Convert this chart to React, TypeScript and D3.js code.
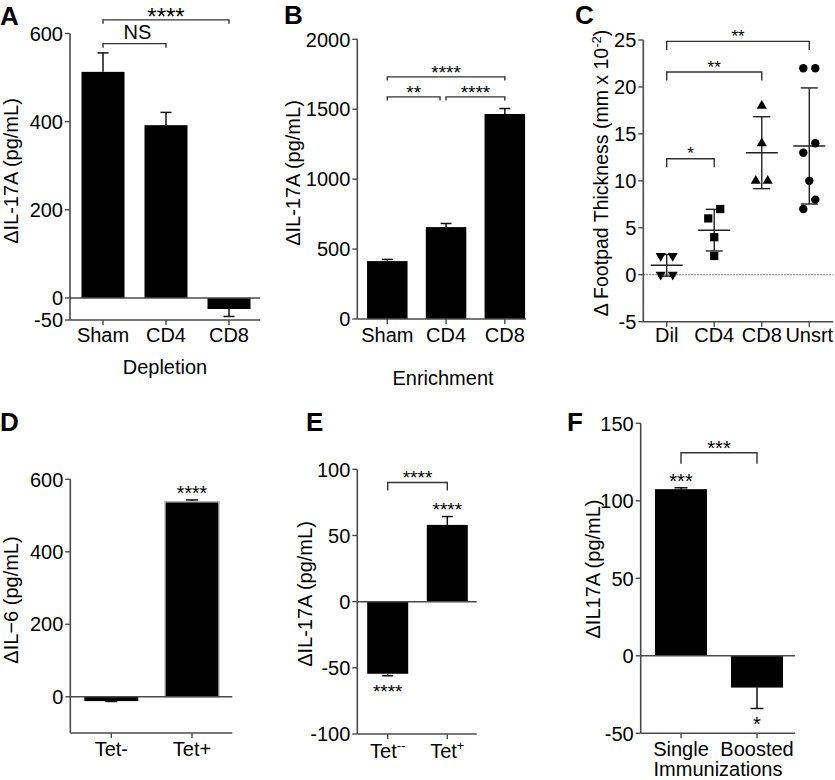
import React from "react";
import * as d3 from "d3";

const FONT = "'Liberation Sans', Arial, Helvetica, sans-serif";
const AXIS = "#4a4a4a";

// ---------- Panel A: Depletion ----------
const aCategories = ["Sham", "CD4", "CD8"];
const aValues = [513, 392, -25];
const aErrors = [43, 29, 17];
const aTicks = [-50, 0, 200, 400, 600];
const aBrackets = [
  { from: "Sham", to: "CD8", at: 631, label: "****" },
  { from: "Sham", to: "CD4", at: 577, label: "NS" },
];

// ---------- Panel B: Enrichment ----------
const bCategories = ["Sham", "CD4", "CD8"];
const bValues = [414, 657, 1466];
const bErrors = [12, 26, 39];
const bTicks = [0, 500, 1000, 1500, 2000];
const bBrackets = [
  { from: "Sham", to: "CD8", at: 1731, label: "****" },
  { from: "Sham", to: "CD4", at: 1588, label: "**", insetR: 6 },
  { from: "CD4", to: "CD8", at: 1588, label: "****" },
];

// ---------- Panel C: Footpad thickness ----------
const cCategories = ["Dil", "CD4", "CD8", "Unsrt"];
const cDil = [2, 2, 0, 0];
const cCD4 = [6, 7, 4, 2];
const cCD8 = [18, 14, 10, 10];
const cUnsrt = [22, 22, 14, 13, 10, 8, 7];
const cTicks = [-5, 0, 5, 10, 15, 20, 25];
const cBrackets = [
  { from: "Dil", to: "Unsrt", at: 24.85, label: "**" },
  { from: "Dil", to: "CD8", at: 21.6, label: "**" },
  { from: "Dil", to: "CD4", at: 12.35, label: "*" },
];

// ---------- Panel D: IL-6 ----------
const dCategories = ["Tet-", "Tet+"];
const dValues = [-12, 538];
const dErrors = [1, 5];
const dTicks = [0, 200, 400, 600];
const dStars = ["", "****"];

// ---------- Panel E: IL-17A ----------
const eCategories = ["Tet--", "Tet+"];
const eLabelBase = ["Tet", "Tet"];
const eLabelSup = ["--", "+"];
const eValues = [-54.5, 58];
const eErrors = [1.5, 6.3];
const eTicks = [-100, -50, 0, 50, 100];
const eStars = ["****", "****"];
const eBrackets = [{ from: "Tet--", to: "Tet+", at: 90, label: "****" }];

// ---------- Panel F: Immunizations ----------
const fCategories = ["Single", "Boosted"];
const fValues = [107.5, -20.5];
const fErrors = [0.9, 13.5];
const fTicks = [-50, 0, 50, 100, 150];
const fStars = ["***", "*"];
const fBrackets = [{ from: "Single", to: "Boosted", at: 131, label: "***" }];

type Bracket = { from: string; to: string; at: number; label: string; insetR?: number };

const TICK_FS = 20;

function StarText({ x, cy, label, fs }: { x: number; cy: number; label: string; fs: number }) {
  return (
    <text x={x} y={cy + 0.57 * fs} fontSize={fs} textAnchor="middle" fill="#000">
      {label}
    </text>
  );
}

function YAxis({ y, ticks, axisX, top, bottom }: any) {
  return (
    <g>
      <line x1={axisX} x2={axisX} y1={top} y2={bottom} stroke={AXIS} strokeWidth={1.6} />
      {ticks.map((t: number) => (
        <g key={t}>
          <line x1={axisX - 5} x2={axisX} y1={y(t)} y2={y(t)} stroke={AXIS} strokeWidth={1.4} />
          <text x={axisX - 7} y={y(t)} dy="0.36em" textAnchor="end" fontSize={TICK_FS} fill="#000">
            {t}
          </text>
        </g>
      ))}
    </g>
  );
}

function Brackets({ brackets, x, y, tick, fs }: any) {
  return (
    <g>
      {brackets.map((b: Bracket, i: number) => {
        const x1 = x(b.from) as number;
        const x2 = (x(b.to) as number) - (b.insetR || 0);
        const yy = y(b.at);
        const isText = b.label === "NS";
        return (
          <g key={i}>
            <path
              d={`M${x1},${yy + tick}V${yy}H${x2}V${yy + tick}`}
              fill="none"
              stroke="#333"
              strokeWidth={1.4}
            />
            {isText ? (
              <text x={(x1 + x2) / 2 + 3} y={yy - 5} textAnchor="middle" fontSize={20} fill="#000">
                {b.label}
              </text>
            ) : (
              <StarText x={(x1 + x2) / 2} cy={yy - 9} label={b.label} fs={fs} />
            )}
          </g>
        );
      })}
    </g>
  );
}

function BarPanel(props: any) {
  const {
    cats, values, errors, ticks, yDomain, yPix, axisX, axisRight, centers, barW, capW,
    brackets, bracketTick, starFs, barStars, barStroke, catLabels, catY,
  } = props;
  const y = d3.scaleLinear().domain(yDomain).range(yPix);
  const x = d3.scalePoint<string>().domain(cats).range(centers);
  const y0 = y(0);
  const bottom = yPix[0];
  return (
    <g>
      {cats.map((c: string, i: number) => {
        const v = values[i];
        const cx = x(c) as number;
        const yv = y(v);
        const tip = v >= 0 ? v + errors[i] : v - errors[i];
        const yt = y(tip);
        return (
          <g key={c}>
            <line x1={cx} x2={cx} y1={yv} y2={yt} stroke="#111" strokeWidth={1.5} />
            <line x1={cx - capW / 2} x2={cx + capW / 2} y1={yt} y2={yt} stroke="#111" strokeWidth={1.5} />
            <rect
              x={cx - barW / 2}
              y={Math.min(yv, y0)}
              width={barW}
              height={Math.abs(y0 - yv)}
              fill="#000"
              stroke={barStroke ? barStroke[i] : "none"}
              strokeWidth={1.5}
            />
            {barStars && barStars[i] ? (
              <StarText x={cx} cy={v >= 0 ? yt - 11 : yt + 11} label={barStars[i]} fs={starFs} />
            ) : null}
          </g>
        );
      })}
      {yDomain[0] < 0 ? (
        <line x1={axisX} x2={axisRight} y1={y0} y2={y0} stroke={AXIS} strokeWidth={1.5} />
      ) : null}
      <line x1={axisX} x2={axisRight} y1={bottom} y2={bottom} stroke={AXIS} strokeWidth={1.6} />
      {cats.map((c: string, i: number) => {
        const cx = x(c) as number;
        return (
          <g key={c + "t"}>
            <line x1={cx} x2={cx} y1={bottom} y2={bottom + 5} stroke={AXIS} strokeWidth={1.4} />
            <text x={cx} y={catY} textAnchor="middle" fontSize={TICK_FS} fill="#000">
              {catLabels[i]}
            </text>
          </g>
        );
      })}
      <YAxis y={y} ticks={ticks} axisX={axisX} top={yPix[1]} bottom={bottom} />
      {brackets ? <Brackets brackets={brackets} x={x} y={y} tick={bracketTick} fs={starFs} /> : null}
    </g>
  );
}

function swarm(values: number[], threshold: number, spacing: number) {
  const idx = values.map((v, i) => i).sort((a, b) => values[a] - values[b]);
  const offsets = new Array(values.length).fill(0);
  let cluster: number[] = [];
  const flush = () => {
    cluster.forEach((k, j) => {
      offsets[k] = (j - (cluster.length - 1) / 2) * spacing;
    });
    cluster = [];
  };
  idx.forEach((k) => {
    if (cluster.length && values[k] - values[cluster[cluster.length - 1]] > threshold) flush();
    cluster.push(k);
  });
  flush();
  return offsets;
}

function ScatterPanel() {
  const y = d3.scaleLinear().domain([-5, 25]).range([321.7, 40]);
  const x = d3.scalePoint<string>().domain(cCategories).range([666.7, 809.3]);
  const groups = [cDil, cCD4, cCD8, cUnsrt];
  const symbols = [
    { t: d3.symbolTriangle, s: 44, r: 180 },
    { t: d3.symbolSquare, s: 68, r: 0 },
    { t: d3.symbolTriangle, s: 44, r: 0 },
    { t: d3.symbolCircle, s: 56, r: 0 },
  ];
  const axisX = 643.3;
  const bottom = 321.7;
  return (
    <g>
      <line
        x1={axisX} x2={833} y1={y(0)} y2={y(0)}
        stroke="#555" strokeWidth={1} strokeDasharray="1.5,1.5"
      />
      {groups.map((vals, gi) => {
        const cx = x(cCategories[gi]) as number;
        const offs = swarm(vals, 1.5, 12);
        const m = d3.mean(vals) as number;
        const sd = d3.deviation(vals) as number;
        const sym = d3.symbol().type(symbols[gi].t).size(symbols[gi].s)() as string;
        return (
          <g key={gi}>
            <line x1={cx} x2={cx} y1={y(m + sd)} y2={y(m - sd)} stroke="#222" strokeWidth={1.4} />
            <line x1={cx - 8.5} x2={cx + 8.5} y1={y(m + sd)} y2={y(m + sd)} stroke="#222" strokeWidth={1.4} />
            <line x1={cx - 8.5} x2={cx + 8.5} y1={y(m - sd)} y2={y(m - sd)} stroke="#222" strokeWidth={1.4} />
            <line x1={cx - 16} x2={cx + 16} y1={y(m)} y2={y(m)} stroke="#222" strokeWidth={1.5} />
            {vals.map((v, i) => (
              <path
                key={i}
                d={sym}
                transform={`translate(${cx + offs[i]},${y(v)}) rotate(${symbols[gi].r})`}
                fill="#000"
              />
            ))}
          </g>
        );
      })}
      <line x1={axisX} x2={833} y1={bottom} y2={bottom} stroke={AXIS} strokeWidth={1.6} />
      {cCategories.map((c) => (
        <g key={c}>
          <line x1={x(c)} x2={x(c)} y1={bottom} y2={bottom + 5} stroke={AXIS} strokeWidth={1.4} />
          <text x={x(c)} y={342} textAnchor="middle" fontSize={TICK_FS} fill="#000">
            {c}
          </text>
        </g>
      ))}
      <YAxis y={y} ticks={cTicks} axisX={axisX} top={40} bottom={bottom} />
      <Brackets brackets={cBrackets} x={x} y={y} tick={8.5} fs={17} />
    </g>
  );
}

function YLabel({ x, cy, children, fs = 20 }: any) {
  return (
    <text transform={`translate(${x},${cy}) rotate(-90)`} textAnchor="middle" fontSize={fs} fill="#000">
      {children}
    </text>
  );
}

function PanelLetter({ x, y, l }: any) {
  return (
    <text x={x} y={y} fontSize={26} fontWeight="bold" fill="#000">
      {l}
    </text>
  );
}

export default function App() {
  return (
    <svg
      width={835}
      height={780}
      style={{ position: "absolute", left: 0, top: 0, background: "#fff" }}
      fontFamily={FONT}
    >
      <rect width={835} height={780} fill="#fff" />
      {/* A */}
      <PanelLetter x={0} y={25} l="A" />
      <BarPanel
        cats={aCategories} values={aValues} errors={aErrors} ticks={aTicks}
        yDomain={[-50, 600]} yPix={[320, 33.5]} axisX={70} axisRight={260}
        centers={[103, 229]} barW={43} capW={11}
        brackets={aBrackets} bracketTick={4} starFs={24}
        catLabels={aCategories} catY={342}
      />
      <YLabel x={18} cy={171}>ΔIL-17A (pg/mL)</YLabel>
      <text x={165} y={374} textAnchor="middle" fontSize={20}>Depletion</text>

      {/* B */}
      <PanelLetter x={284} y={24} l="B" />
      <BarPanel
        cats={bCategories} values={bValues} errors={bErrors} ticks={bTicks}
        yDomain={[0, 2000]} yPix={[319, 39.3]} axisX={357.3} axisRight={526}
        centers={[387.3, 504.8]} barW={40.5} capW={11}
        brackets={bBrackets} bracketTick={3.5} starFs={19}
        catLabels={bCategories} catY={342}
      />
      <YLabel x={300} cy={173}>ΔIL-17A (pg/mL)</YLabel>
      <text x={443} y={385} textAnchor="middle" fontSize={20}>Enrichment</text>

      {/* C */}
      <PanelLetter x={575} y={24} l="C" />
      <ScatterPanel />
      <YLabel x={608} cy={173} fs={19.5}>
        Δ Footpad Thickness (mm x 10
        <tspan dy={-7} fontSize={13}>-2</tspan>
        <tspan dy={7}>)</tspan>
      </YLabel>

      {/* D */}
      <PanelLetter x={0} y={431} l="D" />
      <BarPanel
        cats={dCategories} values={dValues} errors={dErrors} ticks={dTicks}
        yDomain={[-100, 600]} yPix={[733, 479.3]} axisX={70.3} axisRight={232.3}
        centers={[111.3, 192]} barW={54} capW={12}
        starFs={19.5} barStars={dStars} barStroke={["none", "#b8b8b8"]}
        catLabels={dCategories} catY={756}
      />
      <YLabel x={18} cy={600}>ΔIL−6 (pg/mL)</YLabel>

      {/* E */}
      <PanelLetter x={306} y={431} l="E" />
      <BarPanel
        cats={eCategories} values={eValues} errors={eErrors} ticks={eTicks}
        yDomain={[-100, 100]} yPix={[734, 469.3]} axisX={357.3} axisRight={476.7}
        centers={[387.7, 447.3]} barW={41} capW={11}
        brackets={eBrackets} bracketTick={8} starFs={19}
        barStars={eStars}
        catLabels={eLabelBase.map((b, i) => (
          <>
            {b}
            <tspan dy={-8} fontSize={13}>{eLabelSup[i]}</tspan>
          </>
        ))}
        catY={758}
      />
      <YLabel x={312} cy={594}>ΔIL-17A (pg/mL)</YLabel>

      {/* F */}
      <PanelLetter x={567} y={431} l="F" />
      <BarPanel
        cats={fCategories} values={fValues} errors={fErrors} ticks={fTicks}
        yDomain={[-50, 150]} yPix={[733.3, 423.3]} axisX={640.7} axisRight={795}
        centers={[681, 757]} barW={52} capW={13}
        brackets={fBrackets} bracketTick={11} starFs={20}
        barStars={fStars}
        catLabels={fCategories} catY={756}
      />
      <YLabel x={600} cy={569}>ΔIL17A (pg/mL)</YLabel>
      <text x={718} y={776} textAnchor="middle" fontSize={20}>Immunizations</text>
    </svg>
  );
}
